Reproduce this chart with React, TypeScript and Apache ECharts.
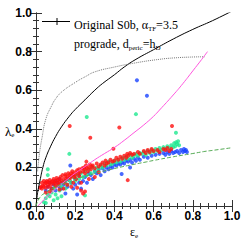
import React, { useEffect, useRef } from "react";
import * as echarts from "echarts";

const xTicks = [0, 0.2, 0.4, 0.6, 0.8, 1.0];
const yTicks = [0, 0.2, 0.4, 0.6, 0.8, 1.0];

const isoCurve: number[][] = [
  [0, 0], [0.005, 0.045], [0.01, 0.08], [0.02, 0.13], [0.035, 0.2], [0.05, 0.25], [0.075, 0.31],
  [0.1, 0.36], [0.13, 0.41], [0.17, 0.465], [0.2, 0.5], [0.25, 0.55], [0.3, 0.6], [0.34, 0.635],
  [0.4, 0.68], [0.45, 0.72], [0.51, 0.76], [0.6, 0.81], [0.7, 0.865], [0.8, 0.915], [0.9, 0.96], [1.0, 1.01],
];
const dottedCurve: number[][] = [
  [0.008, 0.18], [0.015, 0.25], [0.02, 0.29], [0.03, 0.35], [0.05, 0.45], [0.08, 0.52], [0.1, 0.555],
  [0.13, 0.59], [0.2, 0.64], [0.255, 0.672], [0.3, 0.695], [0.4, 0.72], [0.51, 0.742], [0.63, 0.76],
  [0.7, 0.767], [0.8, 0.772], [0.86, 0.773],
];
const magentaCurve: number[][] = [
  [0.01, 0], [0.06, 0.052], [0.1, 0.088], [0.15, 0.13], [0.2, 0.17], [0.257, 0.209], [0.3, 0.24],
  [0.35, 0.272], [0.4, 0.303], [0.45, 0.34], [0.5, 0.38], [0.55, 0.42], [0.6, 0.465], [0.63, 0.497],
  [0.7, 0.575], [0.75, 0.635], [0.8, 0.7], [0.845, 0.759], [0.875, 0.8],
];
const dashedCurve: number[][] = [
  [0, 0], [0.02, 0.045], [0.05, 0.07], [0.1, 0.099], [0.2, 0.138], [0.3, 0.168], [0.4, 0.194],
  [0.5, 0.216], [0.556, 0.227], [0.6, 0.236], [0.7, 0.255], [0.8, 0.272], [0.862, 0.283], [0.9, 0.288], [1.0, 0.302],
];

const redPoints: number[][] = [
  [0.02, 0.095], [0.025, 0.1], [0.03, 0.09], [0.03, 0.12], [0.035, 0.105], [0.04, 0.13], [0.04, 0.1],
  [0.045, 0.115], [0.05, 0.12], [0.05, 0.095], [0.055, 0.13], [0.06, 0.11], [0.06, 0.125], [0.065, 0.1],
  [0.07, 0.12], [0.07, 0.135], [0.075, 0.11], [0.08, 0.125], [0.08, 0.09], [0.085, 0.13], [0.09, 0.115],
  [0.09, 0.14], [0.095, 0.12], [0.1, 0.13], [0.1, 0.105], [0.105, 0.145], [0.11, 0.12], [0.11, 0.135],
  [0.115, 0.11], [0.12, 0.14], [0.12, 0.125], [0.125, 0.15], [0.13, 0.13], [0.135, 0.16], [0.14, 0.14],
  [0.145, 0.12], [0.15, 0.155], [0.15, 0.165], [0.155, 0.14], [0.16, 0.15], [0.165, 0.17], [0.17, 0.16],
  [0.175, 0.145], [0.18, 0.17], [0.18, 0.155], [0.185, 0.18], [0.19, 0.165], [0.195, 0.15], [0.2, 0.175],
  [0.2, 0.16], [0.205, 0.14], [0.21, 0.185], [0.215, 0.17], [0.22, 0.155], [0.22, 0.19], [0.225, 0.175],
  [0.23, 0.12], [0.235, 0.195], [0.24, 0.18], [0.245, 0.2], [0.25, 0.19], [0.25, 0.17], [0.255, 0.21],
  [0.26, 0.195], [0.265, 0.18], [0.27, 0.2], [0.275, 0.215], [0.28, 0.19], [0.285, 0.205], [0.29, 0.21],
  [0.3, 0.195], [0.31, 0.22], [0.32, 0.205], [0.33, 0.215], [0.34, 0.225], [0.35, 0.21], [0.355, 0.235],
  [0.36, 0.22], [0.37, 0.225], [0.38, 0.24], [0.39, 0.23], [0.4, 0.235], [0.41, 0.25], [0.42, 0.24],
  [0.43, 0.255], [0.44, 0.245], [0.45, 0.26], [0.46, 0.25], [0.465, 0.27], [0.47, 0.26], [0.48, 0.275],
  [0.49, 0.265], [0.5, 0.27], [0.52, 0.28], [0.53, 0.27], [0.55, 0.285], [0.56, 0.275], [0.57, 0.29],
  [0.58, 0.28], [0.59, 0.295], [0.6, 0.285], [0.62, 0.29], [0.63, 0.28], [0.65, 0.295], [0.66, 0.29],
  [0.67, 0.3], [0.68, 0.285], [0.69, 0.295],
  [0.18, 0.1], [0.19, 0.12], [0.21, 0.095], [0.23, 0.08], [0.24, 0.065], [0.25, 0.075], [0.16, 0.11],
  [0.14, 0.09], [0.12, 0.085], [0.27, 0.14], [0.3, 0.15], [0.32, 0.175], [0.07, 0.075], [0.05, 0.07],
  [0.172, 0.415], [0.425, 0.407], [0.277, 0.354], [0.694, 0.414], [0.395, 0.297], [0.468, 0.134], [0.257, 0.23],
];

const greenPoints: number[][] = [
  [0.04, 0.02], [0.05, 0.04], [0.05, 0.015], [0.06, 0.06], [0.06, 0.19], [0.06, 0.16], [0.07, 0.05],
  [0.08, 0.07], [0.09, 0.03], [0.09, 0.09], [0.1, 0.1], [0.1, 0.06], [0.11, 0.04], [0.12, 0.11],
  [0.12, 0.08], [0.13, 0.1], [0.13, 0.05], [0.14, 0.12], [0.15, 0.09], [0.15, 0.13], [0.16, 0.11],
  [0.17, 0.27], [0.17, 0.14], [0.18, 0.12], [0.19, 0.15], [0.2, 0.13], [0.21, 0.16], [0.22, 0.14],
  [0.23, 0.17], [0.24, 0.15], [0.25, 0.055], [0.25, 0.18], [0.26, 0.16], [0.27, 0.19], [0.28, 0.17],
  [0.29, 0.2], [0.3, 0.18], [0.31, 0.2], [0.32, 0.19], [0.33, 0.21], [0.34, 0.2], [0.35, 0.22],
  [0.36, 0.21], [0.37, 0.23], [0.38, 0.215], [0.39, 0.22], [0.4, 0.235], [0.41, 0.225], [0.42, 0.24],
  [0.43, 0.23], [0.44, 0.25], [0.45, 0.24], [0.46, 0.255], [0.47, 0.245], [0.48, 0.265], [0.49, 0.25],
  [0.5, 0.26], [0.51, 0.27], [0.52, 0.26], [0.53, 0.275], [0.54, 0.27], [0.55, 0.28], [0.56, 0.265],
  [0.57, 0.285], [0.58, 0.275], [0.59, 0.29], [0.6, 0.28], [0.61, 0.295], [0.62, 0.285], [0.63, 0.3],
  [0.64, 0.29], [0.65, 0.305], [0.66, 0.295], [0.67, 0.31], [0.68, 0.3], [0.69, 0.315], [0.7, 0.305],
  [0.705, 0.325], [0.71, 0.31], [0.715, 0.33], [0.72, 0.32], [0.725, 0.335], [0.73, 0.315],
  [0.259, 0.461], [0.51, 0.476], [0.714, 0.379],
];

const bluePoints: number[][] = [
  [0.05, 0.08], [0.06, 0.1], [0.07, 0.12], [0.08, 0.09], [0.09, 0.11], [0.1, 0.13], [0.1, 0.08],
  [0.11, 0.12], [0.12, 0.1], [0.12, 0.14], [0.13, 0.09], [0.13, 0.12], [0.14, 0.11], [0.15, 0.065],
  [0.15, 0.13], [0.16, 0.1], [0.165, 0.14], [0.175, 0.21], [0.18, 0.12], [0.19, 0.09], [0.2, 0.11],
  [0.2, 0.14], [0.21, 0.06], [0.22, 0.12], [0.22, 0.16], [0.23, 0.09], [0.24, 0.13], [0.25, 0.15],
  [0.26, 0.12], [0.27, 0.17], [0.28, 0.16], [0.29, 0.14], [0.3, 0.18], [0.31, 0.17], [0.32, 0.19],
  [0.33, 0.16], [0.34, 0.195], [0.35, 0.18], [0.36, 0.2], [0.37, 0.19], [0.38, 0.205], [0.39, 0.2],
  [0.4, 0.215], [0.41, 0.21], [0.42, 0.22], [0.43, 0.215], [0.437, 0.166], [0.44, 0.225], [0.45, 0.22],
  [0.46, 0.235], [0.47, 0.23], [0.48, 0.2], [0.48, 0.24], [0.49, 0.225], [0.5, 0.245], [0.51, 0.235],
  [0.52, 0.25], [0.53, 0.24], [0.55, 0.255], [0.57, 0.25], [0.59, 0.26], [0.61, 0.265], [0.63, 0.27],
  [0.65, 0.275], [0.66, 0.265], [0.67, 0.28], [0.68, 0.27], [0.69, 0.285], [0.7, 0.275], [0.71, 0.28],
  [0.72, 0.285], [0.73, 0.275], [0.74, 0.29], [0.75, 0.28], [0.755, 0.295], [0.76, 0.285], [0.765, 0.29],
  [0.77, 0.28],
  [0.515, 0.651], [0.566, 0.571],
];

const legendLine1 = ["Original S0b, α", "TF", "=3.5"];
const legendLine2 = ["prograde, d", "peric", "=h", "D"];

export default function App() {
  const ref = useRef<HTMLDivElement>(null);
  useEffect(() => {
    document.body.style.margin = "0";
    const chart = echarts.init(ref.current!, undefined, { renderer: "svg" });
    const frame = "#333";
    const tickLabel = { fontFamily: "Liberation Sans", fontWeight: "bold", fontSize: 12, color: "#000" };
    const baseAxis = (pos: string, showLabels: boolean) => ({
      type: "value",
      min: 0,
      max: 1,
      interval: 0.2,
      position: pos,
      axisLine: { show: true, lineStyle: { color: frame, width: 1 } },
      axisTick: { show: true, inside: true, length: 6, lineStyle: { color: frame } },
      minorTick: { show: true, splitNumber: 5, length: 3, lineStyle: { color: frame } },
      splitLine: { show: false },
      axisLabel: showLabels
        ? { show: true, margin: 4, ...tickLabel, formatter: (v: number) => v.toFixed(1) }
        : { show: false },
    });
    const sub = { fontFamily: "Liberation Serif", fontSize: 7, color: "#000", padding: [7, 0, 0, 0] };
    const main = { fontFamily: "Liberation Serif", fontSize: 12, color: "#000" };
    const scatter = (data: number[][], color: string) => ({
      type: "scatter",
      data,
      symbol: "circle",
      symbolSize: 4,
      itemStyle: { color },
      silent: true,
    });
    const line = (data: number[][], color: string, type: string) => ({
      type: "line",
      data,
      smooth: true,
      showSymbol: false,
      lineStyle: { color, width: 1, type },
      silent: true,
    });
    chart.setOption({
      animation: false,
      grid: { left: 36, right: 13, top: 13, bottom: 39 },
      xAxis: [baseAxis("bottom", true), baseAxis("top", false)],
      yAxis: [baseAxis("left", true), baseAxis("right", false)],
      series: [
        line(isoCurve, "#000", "solid"),
        line(dottedCurve, "#777", "dotted"),
        line(magentaCurve, "#ff55dd", "solid"),
        line(dashedCurve, "#55aa55", "dashed"),
        scatter(bluePoints, "#1a44ff"),
        scatter(greenPoints, "#1ee890"),
        scatter(redPoints, "#ff1010"),
      ],
      graphic: [
        { type: "line", shape: { x1: 42, y1: 21.5, x2: 70, y2: 21.5 }, style: { stroke: "#000", lineWidth: 1 } },
        { type: "line", shape: { x1: 57, y1: 18, x2: 57, y2: 25 }, style: { stroke: "#000", lineWidth: 1 } },
        {
          type: "text",
          x: 74,
          y: 25,
          style: {
            text: `{m|${legendLine1[0]}}{s|${legendLine1[1]}}{m|${legendLine1[2]}}`,
            verticalAlign: "middle",
            rich: { m: main, s: sub },
          },
        },
        {
          type: "text",
          x: 74,
          y: 44,
          style: {
            text: `{m|${legendLine2[0]}}{s|${legendLine2[1]}}{m|${legendLine2[2]}}{s|${legendLine2[3]}}`,
            verticalAlign: "middle",
            rich: { m: main, s: sub },
          },
        },
        {
          type: "text",
          x: 5,
          y: 131,
          style: {
            text: "{m|λ}{s|e}",
            align: "left",
            verticalAlign: "middle",
            rich: { m: { ...main, fontSize: 13 }, s: sub },
          },
        },
        {
          type: "text",
          x: 134,
          y: 232,
          style: {
            text: "{m|ε}{s|e}",
            align: "center",
            verticalAlign: "middle",
            rich: { m: { ...main, fontSize: 12 }, s: sub },
          },
        },
      ],
    });
    return () => chart.dispose();
  }, []);
  return <div ref={ref} style={{ width: 245, height: 245 }} />;
}
